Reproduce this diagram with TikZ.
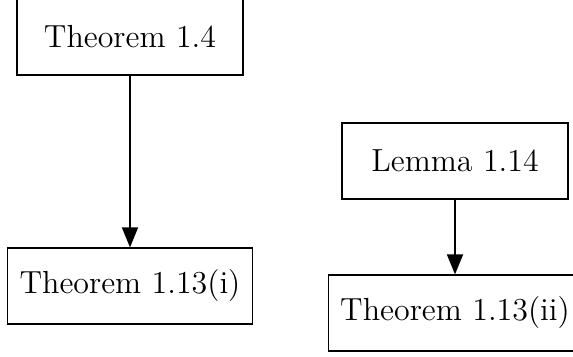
\documentclass[tikz,border=0pt]{standalone}
\usepackage{tikz}
\usetikzlibrary{arrows.meta}

\begin{document}
\begin{tikzpicture}[x=0.388pt,y=0.388pt,>={Triangle[length=7.8pt,width=6.2pt]},line join=miter]
\tikzset{res/.style={draw,line width=0.45pt,minimum width=87.7pt,minimum height=29.5pt,inner xsep=4.6pt,font=\fontsize{12.4}{14}\selectfont}}
\useasboundingbox (0,0) rectangle (573,-356);
\node[res] (thm14) at (130,-37) {Theorem 1.4};
\node[res] (thm113i) at (130,-286) {Theorem 1.13(i)};
\node[res] (lem114) at (455,-161) {Lemma 1.14};
\node[res] (thm113ii) at (455,-313) {Theorem 1.13(ii)};
\draw[->,line width=0.8pt] (thm14) -- (thm113i);
\draw[->,line width=0.8pt] (lem114) -- (thm113ii);
\end{tikzpicture}
\end{document}
